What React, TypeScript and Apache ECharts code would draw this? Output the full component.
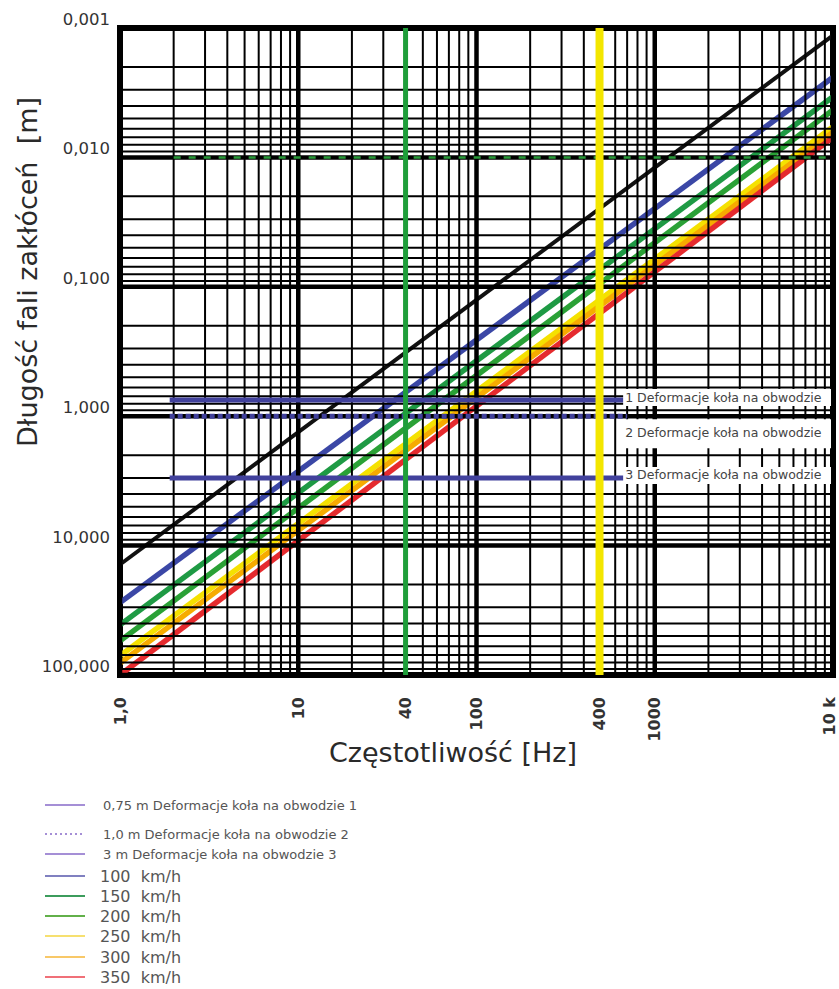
import React, { useEffect, useRef } from 'react';
import * as echarts from 'echarts';

// ---- data ----
const freqRange = [1, 10000];
const waveRange = [0.001, 100];

const yTickLabels = ['0,001', '0,010', '0,100', '1,000', '10,000', '100,000'];
const xTickValues = [1, 10, 40, 100, 490, 1000, 10000];
const xTickLabels = ['1,0', '10', '40', '100', '400', '1000', '10 k'];

const speedNames = ['50 km/h', '100 km/h', '150 km/h', '200 km/h', '250 km/h', '300 km/h', '350 km/h'];
const waveAt1Hz = [14, 27.6, 41, 54.5, 71, 81, 100];
const waveAt10kHz = [0.00114, 0.0024, 0.0034, 0.0043, 0.0058, 0.0064, 0.007];

const deformValues = [0.75, 1.0, 3.0];
const deformFrom = 1.9;
const deformTo = 700;
const deformLabels = [
  '1 Deformacje koła na obwodzie 1',
  '2 Deformacje koła na obwodzie 2',
  '3 Deformacje koła na obwodzie 3',
];

const markerFreqs = [40, 490];
const dashedWave = 0.01;
const dashedFrom = 2;

const legendLabels = [
  '0,75 m Deformacje koła na obwodzie 1',
  '1,0 m Deformacje koła na obwodzie 2',
  '3 m Deformacje koła na obwodzie 3',
  '100  km/h',
  '150  km/h',
  '200  km/h',
  '250  km/h',
  '300  km/h',
  '350  km/h',
];

// ---- styles / layout ----
const speedColors = ['#111111', '#3b47a6', '#1e9a44', '#2aa136', '#f5e100', '#f6ab00', '#e52a2e'];
const speedWidths = [4, 5.5, 5.5, 5.5, 5.5, 5.5, 5.5];
const deformColor = '#41419c';
const markerColors = ['#1f9e3a', '#f3e600'];
const markerWidths = [5, 8];
const legendColors = ['#a58fd6', '#a58fd6', '#a58fd6', '#8080c0', '#3c9c5c', '#62b04a', '#f6e070', '#f8c868', '#f07078'];
const legendDashed = [false, true, false, false, false, false, false, false, false];
const legendY = [805, 834, 854, 876, 896, 916, 936, 957, 977];
const legendFont = [13, 13, 13, 16, 16, 16, 16, 16, 16];

const GRID = { left: 120, right: 6, top: 28, bottom: 314 };

function gridValues(range: number[]) {
  const out: number[] = [];
  const lo = Math.round(Math.log10(range[0]));
  const hi = Math.round(Math.log10(range[1]));
  for (let e = lo; e < hi; e++) {
    for (let m = 1; m <= 9; m++) out.push(m * Math.pow(10, e));
  }
  out.push(Math.pow(10, hi));
  return out;
}
const isDecade = (v: number) => Math.abs(Math.log10(v) - Math.round(Math.log10(v))) < 1e-9;

export default function App() {
  const ref = useRef<HTMLDivElement>(null);
  useEffect(() => {
    document.body.style.margin = '0';
    const chart = echarts.init(ref.current!, null, { renderer: 'svg' });

    const series: any[] = [];
    speedNames.forEach((name, i) => {
      series.push({
        name,
        type: 'line',
        data: [[freqRange[0], waveAt1Hz[i]], [freqRange[1], waveAt10kHz[i]]],
        showSymbol: false,
        symbol: 'none',
        silent: true,
        z: 1,
        lineStyle: { color: speedColors[i], width: speedWidths[i], cap: 'butt' },
      });
    });
    // grid lines (vertical)
    series.push({
      type: 'custom',
      silent: true,
      z: 2,
      data: gridValues(freqRange).map((v) => [v, 1]),
      renderItem: (params: any, api: any) => {
        const v = api.value(0);
        const p = api.coord([v, waveRange[0]]);
        const q = api.coord([v, waveRange[1]]);
        return {
          type: 'line',
          shape: { x1: p[0], y1: p[1], x2: q[0], y2: q[1] },
          style: { stroke: '#000', lineWidth: isDecade(v) ? 4.5 : 2 },
        };
      },
    });
    // grid lines (horizontal)
    series.push({
      type: 'custom',
      silent: true,
      z: 2,
      data: gridValues(waveRange).map((v) => [1, v]),
      renderItem: (params: any, api: any) => {
        const v = api.value(1);
        const p = api.coord([freqRange[0], v]);
        const q = api.coord([freqRange[1], v]);
        return {
          type: 'line',
          shape: { x1: p[0], y1: p[1], x2: q[0], y2: q[1] },
          style: { stroke: '#000', lineWidth: isDecade(v) ? 4.5 : 2 },
        };
      },
    });
    // dashed green line at 0.01
    series.push({
      type: 'line',
      data: [[dashedFrom, dashedWave], [freqRange[1], dashedWave]],
      showSymbol: false,
      symbol: 'none',
      silent: true,
      z: 3,
      lineStyle: { color: '#2a9a3a', width: 2.5, type: [7, 8] },
    });
    // deformation lines
    deformValues.forEach((v, i) => {
      series.push({
        name: deformLabels[i],
        type: 'line',
        data: [[deformFrom, v], [deformTo, v]],
        showSymbol: false,
        symbol: 'none',
        silent: true,
        z: 3,
        lineStyle: { color: deformColor, width: 5, type: i === 1 ? [5, 3] : 'solid', cap: 'butt' },
      });
    });
    // marker verticals
    markerFreqs.forEach((f, i) => {
      series.push({
        type: 'line',
        data: [[f, waveRange[0]], [f, waveRange[1]]],
        showSymbol: false,
        symbol: 'none',
        silent: true,
        z: 4,
        lineStyle: { color: markerColors[i], width: markerWidths[i], cap: 'butt' },
      });
    });

    chart.setOption({
      animation: false,
      grid: { ...GRID, show: true, borderColor: '#000', borderWidth: 6, backgroundColor: '#fff' },
      xAxis: {
        type: 'log',
        logBase: 10,
        min: freqRange[0],
        max: freqRange[1],
        axisLine: { show: false },
        axisTick: { show: false },
        splitLine: { show: false },
        axisLabel: { show: false },
      },
      yAxis: {
        type: 'log',
        logBase: 10,
        inverse: true,
        min: waveRange[0],
        max: waveRange[1],
        axisLine: { show: false },
        axisTick: { show: false },
        splitLine: { show: false },
        axisLabel: {
          show: true,
          margin: 10,
          color: '#333',
          fontSize: 16.5,
          fontFamily: 'DejaVu Sans',
          verticalAlign: 'bottom',
          formatter: (v: number) => yTickLabels[Math.round(Math.log10(v)) + 3] ?? '',
        },
      },
      series,
    });

    const px = (x: number, y: number) => chart.convertToPixel({ gridIndex: 0 } as any, [x, y]) as number[];
    const rightEdge = px(freqRange[1], 1)[0];
    const bottomEdge = px(1, waveRange[1])[1];
    const g: any[] = [];

    xTickValues.forEach((v, i) => {
      const x = Math.min(px(v, 1)[0], 829);
      g.push({
        type: 'text',
        x,
        y: bottomEdge + 22,
        rotation: Math.PI / 2,
        z: 10,
        style: {
          text: xTickLabels[i],
          align: 'right',
          verticalAlign: 'middle',
          font: 'bold 16px "DejaVu Sans"',
          fill: '#333',
        },
      });
    });

    deformValues.forEach((v, i) => {
      const end = px(deformTo, v);
      const lx = end[0] - 4;
      const ly = i === 1 ? end[1] + 16 : end[1] - 3;
      const boxTop = i === 1 ? end[1] + 3 : ly - 8;
      const boxH = i === 1 ? 29 : 17;
      g.push({
        type: 'rect',
        z: 20,
        shape: { x: lx, y: boxTop, width: rightEdge - lx - 2, height: boxH },
        style: { fill: '#fff' },
      });
      g.push({
        type: 'text',
        z: 21,
        x: lx + 2,
        y: ly,
        style: {
          text: deformLabels[i],
          width: rightEdge - lx - 4,
          overflow: 'truncate',
          ellipsis: '',
          align: 'left',
          verticalAlign: 'middle',
          font: '12.5px "DejaVu Sans"',
          fill: '#444',
        },
      });
    });

    // axis titles
    g.push({
      type: 'text',
      x: 27,
      y: 272,
      rotation: Math.PI / 2,
      z: 10,
      style: {
        text: 'Długość fali zakłóceń  [m]',
        align: 'center',
        verticalAlign: 'middle',
        font: '27px "DejaVu Sans"',
        fill: '#2a2a2a',
      },
    });
    g.push({
      type: 'text',
      x: 453,
      y: 752,
      z: 10,
      style: {
        text: 'Częstotliwość [Hz]',
        align: 'center',
        verticalAlign: 'middle',
        font: '27px "DejaVu Sans"',
        fill: '#2a2a2a',
      },
    });

    // legend
    legendLabels.forEach((label, i) => {
      const y = legendY[i];
      g.push({
        type: 'line',
        z: 10,
        shape: { x1: 45, y1: y, x2: 85, y2: y },
        style: {
          stroke: legendColors[i],
          lineWidth: 2,
          lineDash: legendDashed[i] ? [2, 3] : null,
        },
      });
      g.push({
        type: 'text',
        z: 10,
        x: i < 3 ? 103 : 100,
        y,
        style: {
          text: label,
          align: 'left',
          verticalAlign: 'middle',
          font: `${legendFont[i]}px "DejaVu Sans"`,
          fill: '#555',
        },
      });
    });

    chart.setOption({ graphic: g });
    return () => chart.dispose();
  }, []);
  return <div ref={ref} style={{ position: 'absolute', left: 0, top: 0, width: 839, height: 989 }} />;
}
